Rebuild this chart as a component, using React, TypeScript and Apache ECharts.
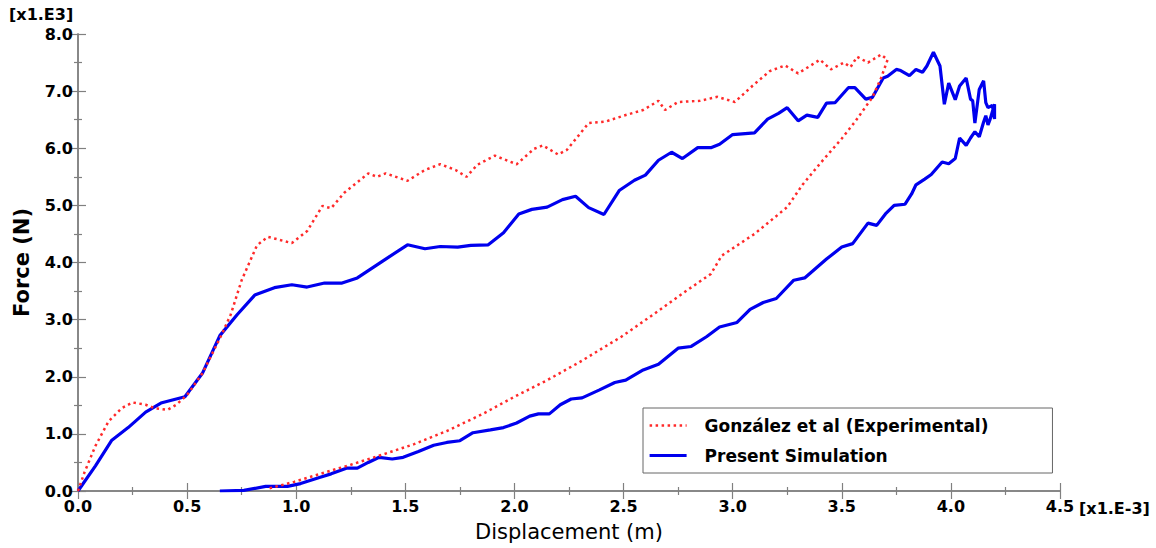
import React, { useEffect, useRef } from "react";
import * as echarts from "echarts";

// Displacement in [x1.E-3] m, force in [x1.E3] N
const experimentalLoading: number[][] = [
  [0, 0], [0.03, 0.33], [0.08, 0.79], [0.14, 1.22], [0.2, 1.45], [0.25, 1.55], [0.31, 1.51],
  [0.35, 1.45], [0.41, 1.42], [0.45, 1.51], [0.5, 1.68], [0.57, 2.06], [0.66, 2.75], [0.7, 3.09],
  [0.75, 3.69], [0.82, 4.3], [0.87, 4.45], [0.98, 4.34], [1.05, 4.55], [1.12, 4.99], [1.16, 4.95],
  [1.22, 5.22], [1.33, 5.56], [1.37, 5.5], [1.41, 5.56], [1.51, 5.43], [1.59, 5.62], [1.66, 5.72],
  [1.73, 5.62], [1.78, 5.5], [1.83, 5.71], [1.91, 5.87], [2.01, 5.72], [2.09, 5.99], [2.13, 6.05],
  [2.2, 5.89], [2.24, 5.97], [2.34, 6.44], [2.42, 6.47], [2.5, 6.57], [2.59, 6.67], [2.66, 6.83],
  [2.69, 6.67], [2.75, 6.81], [2.85, 6.83], [2.93, 6.9], [3.01, 6.81], [3.09, 7.09], [3.17, 7.35],
  [3.24, 7.45], [3.3, 7.31], [3.4, 7.55], [3.45, 7.38], [3.51, 7.5], [3.54, 7.42], [3.57, 7.6],
  [3.62, 7.5], [3.68, 7.64], [3.71, 7.55],
];
const experimentalUnloading: number[][] = [
  [3.68, 7.23], [3.64, 6.89], [3.56, 6.46], [3.5, 6.17], [3.4, 5.73], [3.32, 5.36], [3.25, 4.97],
  [3.1, 4.5], [2.95, 4.12], [2.9, 3.8], [2.79, 3.51], [2.64, 3.1], [2.49, 2.7], [2.3, 2.26],
  [2.15, 1.94], [2.0, 1.65], [1.85, 1.34], [1.69, 1.05], [1.54, 0.82], [1.39, 0.63], [1.25, 0.46],
  [1.11, 0.3], [0.99, 0.16], [0.87, 0.04],
];
const simulationLoading: number[][] = [
  [0, 0], [0.08, 0.44], [0.155, 0.89], [0.23, 1.11], [0.31, 1.38], [0.38, 1.54], [0.49, 1.65],
  [0.57, 2.06], [0.65, 2.72], [0.73, 3.09], [0.81, 3.43], [0.9, 3.56], [0.98, 3.61], [1.05, 3.57],
  [1.13, 3.64], [1.21, 3.64], [1.28, 3.73], [1.41, 4.06], [1.51, 4.31], [1.59, 4.24], [1.66, 4.28],
  [1.74, 4.27], [1.8, 4.3], [1.88, 4.31], [1.95, 4.52], [2.02, 4.85], [2.08, 4.93], [2.15, 4.97],
  [2.22, 5.1], [2.28, 5.16], [2.34, 4.96], [2.41, 4.84], [2.48, 5.26], [2.55, 5.44], [2.6, 5.53],
  [2.66, 5.79], [2.72, 5.93], [2.77, 5.82], [2.84, 6.01], [2.9, 6.01], [2.94, 6.07], [3.0, 6.24],
  [3.1, 6.27], [3.16, 6.51], [3.21, 6.61], [3.25, 6.71], [3.3, 6.48], [3.34, 6.58], [3.39, 6.54],
  [3.43, 6.79], [3.47, 6.8], [3.53, 7.06], [3.56, 7.06], [3.61, 6.86], [3.64, 6.89], [3.69, 7.23],
  [3.71, 7.26], [3.75, 7.38], [3.77, 7.36], [3.81, 7.27], [3.84, 7.38], [3.87, 7.33], [3.89, 7.44],
  [3.92, 7.68], [3.95, 7.44], [3.97, 6.77], [3.99, 7.14], [4.02, 6.85], [4.04, 7.09], [4.07, 7.23],
  [4.09, 6.86], [4.1, 6.83], [4.11, 6.44], [4.13, 7.03], [4.15, 7.18], [4.16, 6.8], [4.17, 6.71],
  [4.19, 6.75], [4.2, 6.51], [4.2, 6.77],
];
const simulationUnloading: number[][] = [
  [4.18, 6.51], [4.17, 6.41], [4.16, 6.57], [4.15, 6.46], [4.13, 6.2], [4.11, 6.29], [4.09, 6.18],
  [4.07, 6.05], [4.04, 6.18], [4.02, 5.82], [3.99, 5.73], [3.96, 5.76], [3.91, 5.54], [3.88, 5.46],
  [3.84, 5.36], [3.82, 5.2], [3.79, 5.02], [3.74, 5.0], [3.7, 4.85], [3.66, 4.65], [3.62, 4.69],
  [3.55, 4.33], [3.5, 4.27], [3.43, 4.06], [3.33, 3.73], [3.28, 3.69], [3.2, 3.37], [3.14, 3.3],
  [3.08, 3.18], [3.02, 2.95], [2.94, 2.87], [2.88, 2.7], [2.81, 2.53], [2.75, 2.5], [2.66, 2.22],
  [2.59, 2.12], [2.51, 1.94], [2.46, 1.9], [2.39, 1.77], [2.31, 1.63], [2.26, 1.61], [2.21, 1.51],
  [2.16, 1.35], [2.11, 1.35], [2.07, 1.31], [2.01, 1.19], [1.95, 1.11], [1.89, 1.07], [1.81, 1.02],
  [1.75, 0.88], [1.69, 0.85], [1.63, 0.8], [1.56, 0.69], [1.49, 0.59], [1.44, 0.56], [1.38, 0.59],
  [1.33, 0.5], [1.28, 0.4], [1.23, 0.4], [1.16, 0.3], [1.11, 0.24], [1.02, 0.13], [0.96, 0.08],
  [0.86, 0.08], [0.76, 0.01], [0.65, 0.0],
];

const seriesNames = ["González et al (Experimental)", "Present Simulation"];
const xAxisTitle = "Displacement (m)";
const yAxisTitle = "Force (N)";
const xUnitLabel = "[x1.E-3]";
const yUnitLabel = "[x1.E3]";
const xRange = [0, 4.5];
const yRange = [0, 8];

const FONT = "DejaVu Sans";
const AXIS_GRAY = "#808080";
const RED = "#ff2a2a";
const BLUE = "#0000ee";

export default function App() {
  const ref = useRef<HTMLDivElement>(null);
  useEffect(() => {
    if (!ref.current) return;
    const chart = echarts.init(ref.current, undefined, { renderer: "svg" });
    const labelStyle = {
      color: "#000",
      fontFamily: FONT,
      fontWeight: "bold" as const,
      fontSize: 16,
    };
    const tickCommon = {
      axisLine: { show: true, lineStyle: { color: AXIS_GRAY, width: 1.5 } },
      axisTick: { show: true, inside: true, length: 8, lineStyle: { color: AXIS_GRAY, width: 1.2 } },
      minorTick: { show: true, splitNumber: 2, length: 4, lineStyle: { color: AXIS_GRAY, width: 1.2 } },
      splitLine: { show: false },
      minorSplitLine: { show: false },
    };
    chart.setOption({
      animation: false,
      backgroundColor: "#fff",
      grid: { left: 78, top: 34, right: 96, bottom: 57, containLabel: false },
      legend: {
        show: true,
        orient: "vertical",
        left: 643,
        top: 408,
        padding: [9, 64, 9, 5],
        itemWidth: 37,
        itemHeight: 14,
        itemGap: 13,
        borderColor: "#666",
        borderWidth: 1,
        backgroundColor: "#fff",
        itemStyle: { opacity: 0 },
        textStyle: {
          color: "#000",
          fontFamily: FONT,
          fontWeight: "bold",
          fontSize: 17,
          padding: [0, 0, 0, 13],
        },
        data: [
          { name: seriesNames[0], lineStyle: { color: RED, width: 2.5, type: [2.5, 3.5] } },
          { name: seriesNames[1], lineStyle: { color: BLUE, width: 3.2 } },
        ],
      },
      xAxis: [
        {
          type: "value",
          min: xRange[0],
          max: xRange[1],
          interval: 0.5,
          name: xAxisTitle,
          nameLocation: "middle",
          nameGap: 30,
          nameTextStyle: { color: "#000", fontFamily: FONT, fontSize: 21 },
          axisLabel: { ...labelStyle, margin: 7, formatter: (v: number) => v.toFixed(1) },
          ...tickCommon,
        },
        {
          type: "value",
          position: "top",
          min: xRange[0],
          max: xRange[1],
          interval: 0.5,
          axisLabel: { show: false },
          ...tickCommon,
        },
      ],
      yAxis: [
        {
          type: "value",
          min: yRange[0],
          max: yRange[1],
          interval: 1,
          name: yAxisTitle,
          nameLocation: "middle",
          nameGap: 46,
          nameTextStyle: { color: "#000", fontFamily: FONT, fontSize: 21, fontWeight: "bold" },
          axisLabel: { ...labelStyle, margin: 5, formatter: (v: number) => v.toFixed(1) },
          ...tickCommon,
        },
        {
          type: "value",
          position: "right",
          min: yRange[0],
          max: yRange[1],
          interval: 1,
          axisLabel: { show: false },
          ...tickCommon,
        },
      ],
      graphic: [
        {
          type: "text",
          left: 9,
          top: 6,
          style: { text: yUnitLabel, fill: "#000", font: `bold 16px "${FONT}"` },
        },
        {
          type: "text",
          left: 1079,
          top: 500,
          style: { text: xUnitLabel, fill: "#000", font: `bold 16px "${FONT}"` },
        },
      ],
      series: [
        {
          name: seriesNames[0],
          type: "line",
          data: [...experimentalLoading, ...experimentalUnloading],
          symbol: "none",
          smooth: false,
          color: RED,
          lineStyle: { color: RED, width: 2.5, type: [2.5, 3.5] },
          z: 3,
        },
        {
          name: seriesNames[1],
          type: "line",
          data: [...simulationLoading, ...simulationUnloading],
          symbol: "none",
          smooth: false,
          color: BLUE,
          lineStyle: { color: BLUE, width: 3.2 },
          z: 2,
        },
      ],
    });
    return () => chart.dispose();
  }, []);
  return (
    <div
      ref={ref}
      style={{ position: "fixed", left: 0, top: 0, width: 1156, height: 548, background: "#fff" }}
    />
  );
}
